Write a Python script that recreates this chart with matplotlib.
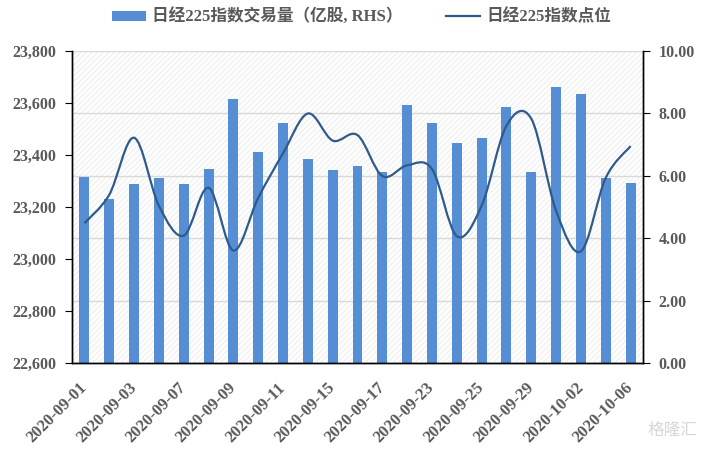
import numpy as np
import matplotlib
matplotlib.use("Agg")
import matplotlib.pyplot as plt
from matplotlib.path import Path
from matplotlib.patches import PathPatch, Patch, Rectangle
from matplotlib.lines import Line2D

dates = [
    "2020-09-01", "2020-09-02", "2020-09-03", "2020-09-04", "2020-09-07",
    "2020-09-08", "2020-09-09", "2020-09-10", "2020-09-11", "2020-09-14",
    "2020-09-15", "2020-09-16", "2020-09-17", "2020-09-18", "2020-09-23",
    "2020-09-24", "2020-09-25", "2020-09-28", "2020-09-29", "2020-09-30",
    "2020-10-02", "2020-10-05", "2020-10-06",
]
# volume, 100 million shares (RHS)
volume = [5.97, 5.26, 5.74, 5.94, 5.74, 6.23, 8.46, 6.76, 7.70, 6.55,
          6.18, 6.32, 6.11, 8.26, 7.69, 7.05, 7.21, 8.20, 6.12, 8.84,
          8.62, 5.94, 5.77]
# index level (LHS)
index_level = [23138, 23247, 23466, 23205, 23090, 23274, 23033, 23235, 23406,
               23559, 23455, 23476, 23319, 23360, 23346, 23088, 23205, 23512,
               23539, 23185, 23030, 23312, 23434]

bar_label = "日经225指数交易量（亿股, RHS）"
line_label = "日经225指数点位"

bar_color = "#558ED5"
line_color = "#2F5A8C"
tick_color = "#595959"
serif = ["Liberation Serif", "Noto Sans CJK SC"]


def smooth_path(xs, ys):
    # Excel-style smoothed line: cubic Bezier through every point
    pts = np.column_stack([xs, ys]).astype(float)
    ext = np.vstack([pts[0], pts, pts[-1]])
    verts = [pts[0]]
    codes = [Path.MOVETO]
    for i in range(len(pts) - 1):
        p0, p1, p2, p3 = ext[i], ext[i + 1], ext[i + 2], ext[i + 3]
        verts += [p1 + (p2 - p0) / 6, p2 - (p3 - p1) / 6, p2]
        codes += [Path.CURVE4] * 3
    return Path(verts, codes)


fig = plt.figure(figsize=(7.08, 4.53), dpi=100)
ax2 = fig.add_axes([0.1017, 0.198, 0.8065, 0.690])
ax = ax2.twinx()
ax.yaxis.tick_left()
ax.yaxis.set_label_position("left")
ax2.yaxis.tick_right()
ax.set_zorder(ax2.get_zorder() + 1)
ax.patch.set_visible(False)

x = np.arange(len(dates))

# faint hatched background
ax2.add_patch(Rectangle((0, 0), 1, 1, transform=ax2.transAxes, facecolor="white",
                        edgecolor="#f1f1f1", hatch="//////", linewidth=0, zorder=0))
ax2.set_axisbelow(True)
ax2.yaxis.grid(True, color="#d9d9d9", linewidth=1.0)

ax2.bar(x, volume, width=0.4, color=bar_color, zorder=2)
ax2.set_ylim(0, 10)
ax2.set_yticks(np.arange(0, 10.01, 2))
ax2.set_yticklabels([f"{v:.2f}" for v in np.arange(0, 10.01, 2)])

ax.add_patch(PathPatch(smooth_path(x, index_level), facecolor="none",
                       edgecolor=line_color, linewidth=1.6, zorder=3))
ax.set_ylim(22600, 23800)
ax.set_yticks(np.arange(22600, 23801, 200))
ax.set_yticklabels([f"{v:,}" for v in range(22600, 23801, 200)])

ax2.set_xlim(-0.5, len(dates) - 0.5)
ax2.set_xticks(x[::2])
ax2.set_xticklabels(dates[::2], rotation=45, ha="right", va="center",
                    rotation_mode="anchor", fontsize=12, fontweight="bold",
                    color=tick_color, family="Liberation Serif")
ax2.tick_params(axis="x", length=0, pad=16)

for a in (ax, ax2):
    a.spines["top"].set_visible(False)
    for s in ("left", "right", "bottom"):
        a.spines[s].set_color("black")
        a.spines[s].set_linewidth(1.0)
    a.tick_params(axis="y", direction="out", length=5, color="black",
                  labelsize=11.5, labelcolor=tick_color, pad=6)
    for lbl in a.get_yticklabels():
        lbl.set_fontweight("bold")
        lbl.set_family("Liberation Serif")

handles = [Patch(facecolor=bar_color, edgecolor="none"),
           Line2D([0], [0], color=line_color, linewidth=1.6)]
fig.legend(handles, [bar_label, line_label], loc="center", ncol=2,
           bbox_to_anchor=(0.511, 0.962), frameon=False, handlelength=2.0,
           handleheight=0.55, columnspacing=2.6, handletextpad=0.4,
           prop={"family": serif, "size": 12, "weight": "bold"},
           labelcolor=tick_color)

fig.text(0.985, 0.03, "格隆汇", ha="right", va="bottom", fontsize=12,
         color="#d6d6d6", family="Noto Sans CJK SC")

fig.savefig("out.png", dpi=100)
